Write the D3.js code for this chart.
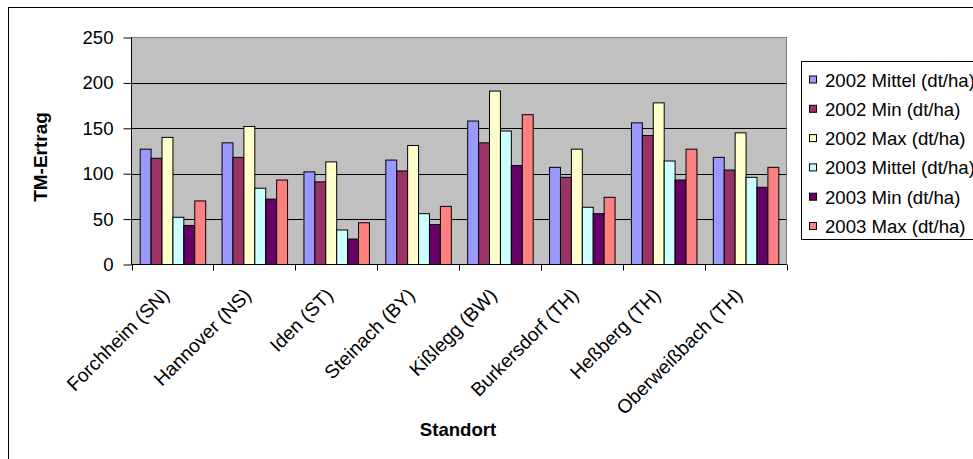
<!DOCTYPE html>
<html>
<head>
<meta charset="utf-8">
<script src="https://cdn.jsdelivr.net/npm/d3@7/dist/d3.min.js"></script>
<style>
  html, body { margin: 0; padding: 0; background: #ffffff; }
  svg { display: block; }
  text { font-family: "Liberation Sans", Arial, sans-serif; }
</style>
</head>
<body>
<svg id="chart" width="973" height="459"></svg>
<script>
const categories = ["Forchheim (SN)", "Hannover (NS)", "Iden (ST)", "Steinach (BY)", "Kißlegg (BW)", "Burkersdorf (TH)", "Heßberg (TH)", "Oberweißbach (TH)"];
const seriesNames = ["2002 Mittel (dt/ha)", "2002 Min (dt/ha)", "2002 Max (dt/ha)", "2003 Mittel (dt/ha)", "2003 Min (dt/ha)", "2003 Max (dt/ha)"];
const seriesColors = ["#9999FF", "#993366", "#FFFFCC", "#CCFFFF", "#660066", "#FF8080"];
const mittel2002 = [127, 134, 102, 115, 158, 107, 156, 118];
const min2002    = [117, 118,  91, 103, 134,  96, 142, 104];
const max2002    = [140, 152, 113, 131, 191, 127, 178, 145];
const mittel2003 = [ 52,  84,  38,  56, 147,  63, 114,  96];
const min2003    = [ 43,  72,  28,  44, 109,  56,  93,  85];
const max2003    = [ 70,  93,  46,  64, 165,  74, 127, 107];
const yTicks = [0, 50, 100, 150, 200, 250];
const yTitle = "TM-Ertrag";
const xTitle = "Standort";

const seriesValues = [mittel2002, min2002, max2002, mittel2003, min2003, max2003];

const svg = d3.select("#chart");
const plot = { left: 131.5, right: 786.5, top: 37.5, bottom: 264.5 };
const FS = 18.6;

// outer chart border
svg.append("rect").attr("x", 8.5).attr("y", 7.5).attr("width", 1000).attr("height", 500)
  .attr("fill", "#fff").attr("stroke", "#000").attr("stroke-width", 1);

const x0 = d3.scaleBand().domain(categories).range([plot.left, plot.right]).paddingInner(0).paddingOuter(0);
const bw = x0.bandwidth();
const x1 = d3.scaleBand().domain(seriesNames).range([bw * 0.1, bw * 0.9]).padding(0);
const y = d3.scaleLinear().domain([0, 250]).range([plot.bottom, plot.top]);

// plot background
svg.append("rect").attr("x", plot.left).attr("y", plot.top)
  .attr("width", plot.right - plot.left).attr("height", plot.bottom - plot.top)
  .attr("fill", "#C0C0C0").attr("stroke", "#808080").attr("stroke-width", 1);

// gridlines
svg.append("g").selectAll("line").data(yTicks.filter(t => t > 0 && t < 250)).join("line")
  .attr("x1", plot.left).attr("x2", plot.right)
  .attr("y1", d => Math.round(y(d)) + 0.5).attr("y2", d => Math.round(y(d)) + 0.5)
  .attr("stroke", "#000").attr("stroke-width", 1);

// bars
const groups = svg.append("g").selectAll("g").data(categories).join("g")
  .attr("transform", d => `translate(${x0(d)},0)`);
groups.selectAll("rect").data((c, ci) => seriesNames.map((s, si) => ({ s, si, v: seriesValues[si][ci] })))
  .join("rect")
  .attr("x", d => x1(d.s) + 0.5)
  .attr("y", d => y(d.v))
  .attr("width", x1.bandwidth())
  .attr("height", d => y(0) - y(d.v))
  .attr("fill", d => seriesColors[d.si])
  .attr("stroke", "#000").attr("stroke-width", 1);

// y axis
const yAxis = d3.axisLeft(y).tickValues(yTicks).tickSize(8).tickPadding(10);
const gy = svg.append("g").attr("transform", `translate(${plot.left},0)`).call(yAxis);
gy.selectAll("text").attr("font-size", FS).attr("fill", "#000")
  .style("font-family", '"Liberation Sans", Arial, sans-serif');
gy.selectAll("line").attr("stroke", "#000");
gy.select(".domain").attr("stroke", "#000").attr("d", `M0,${plot.top}V${plot.bottom}`);

// x axis line and ticks at category boundaries
svg.append("line").attr("x1", plot.left).attr("x2", plot.right)
  .attr("y1", plot.bottom).attr("y2", plot.bottom).attr("stroke", "#000");
const bounds = categories.map(c => x0(c)).concat([x0(categories[categories.length - 1]) + bw]);
svg.append("g").selectAll("line").data(bounds).join("line")
  .attr("x1", d => Math.round(d) + 0.5).attr("x2", d => Math.round(d) + 0.5)
  .attr("y1", plot.bottom).attr("y2", plot.bottom + 6).attr("stroke", "#000");

// category labels rotated
svg.append("g").selectAll("text").data(categories).join("text")
  .attr("transform", d => `translate(${x0(d) + bw / 2 - 2},${plot.bottom + 32}) rotate(-45)`)
  .attr("text-anchor", "end")
  .attr("font-size", 19.2)
  .attr("fill", "#000")
  .text(d => d);

// axis titles
svg.append("text").attr("x", 458).attr("y", 436).attr("text-anchor", "middle")
  .attr("font-size", FS).attr("font-weight", "bold").text(xTitle);
svg.append("text").attr("transform", "translate(47,157) rotate(-90)").attr("text-anchor", "middle")
  .attr("font-size", 19).attr("font-weight", "bold").text(yTitle);

// legend
const legend = svg.append("g");
legend.append("rect").attr("x", 801.5).attr("y", 61.5).attr("width", 300).attr("height", 178)
  .attr("fill", "#fff").attr("stroke", "#000");
const rows = legend.selectAll("g").data(seriesNames).join("g")
  .attr("transform", (d, i) => `translate(0,${80 + i * 29.3})`);
rows.append("rect").attr("x", 809.5).attr("y", -4).attr("width", 7).attr("height", 7)
  .attr("fill", (d, i) => seriesColors[i]).attr("stroke", "#000");
rows.append("text").attr("x", 825).attr("y", 6.5).attr("font-size", FS).attr("fill", "#000").text(d => d);
</script>
</body>
</html>
